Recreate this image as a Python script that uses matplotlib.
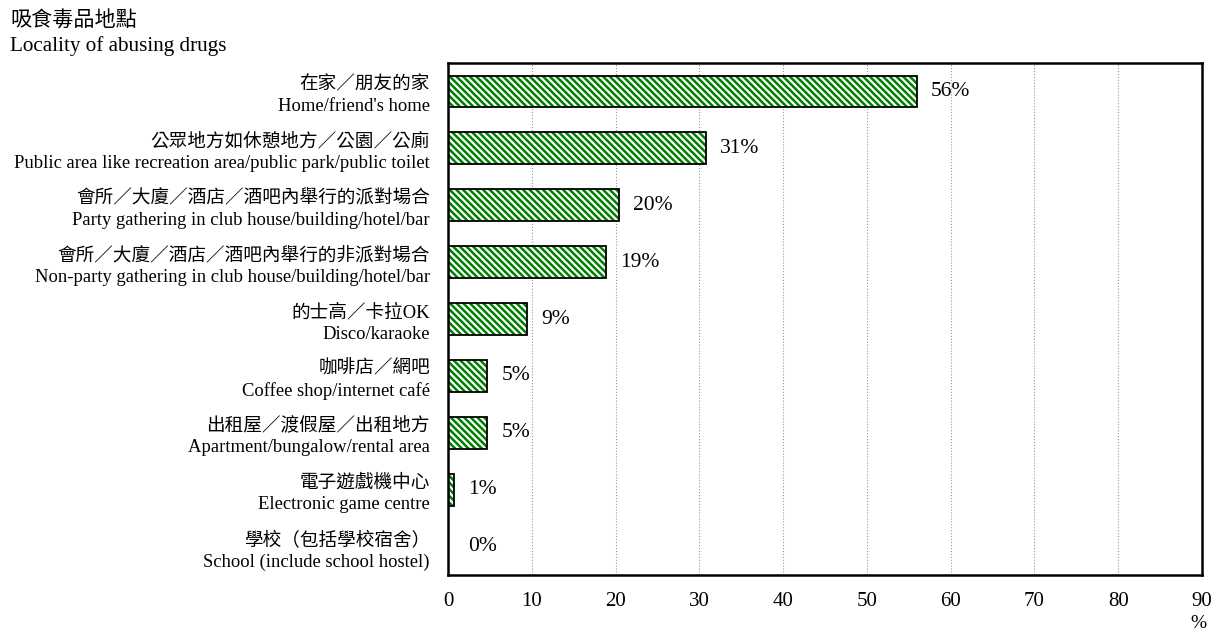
import matplotlib
matplotlib.use("Agg")
import matplotlib.pyplot as plt

categories_zh = ["在家／朋友的家", "公眾地方如休憩地方／公園／公廁",
                 "會所／大廈／酒店／酒吧內舉行的派對場合",
                 "會所／大廈／酒店／酒吧內舉行的非派對場合",
                 "的士高／卡拉OK", "咖啡店／網吧", "出租屋／渡假屋／出租地方",
                 "電子遊戲機中心", "學校（包括學校宿舍）"]
categories_en = ["Home/friend's home",
                 "Public area like recreation area/public park/public toilet",
                 "Party gathering in club house/building/hotel/bar",
                 "Non-party gathering in club house/building/hotel/bar",
                 "Disco/karaoke", "Coffee shop/internet café",
                 "Apartment/bungalow/rental area", "Electronic game centre",
                 "School (include school hostel)"]
values = [56.0, 30.8, 20.4, 18.9, 9.4, 4.7, 4.7, 0.7, 0.0]
value_labels = ["56%", "31%", "20%", "19%", "9%", "5%", "5%", "1%", "0%"]
xticks = [0, 10, 20, 30, 40, 50, 60, 70, 80, 90]

FAM = ["Liberation Serif", "Noto Sans CJK TC"]
plt.rcParams['font.family'] = FAM
plt.rcParams['font.weight'] = 'light'
plt.rcParams['hatch.linewidth'] = 1.8

fig = plt.figure(figsize=(12.13, 6.31), dpi=100)
ax = fig.add_axes([448/1213, 1-575/631, (1202-448)/1213, (575-63)/631])

y = list(range(len(values)))
# hatched fill (green stripes on white)
ax.barh(y, values, height=0.56, color='white', edgecolor='#008000',
        linewidth=0, hatch='\\' * 5, zorder=3)
# black outline
ax.barh(y, values, height=0.56, fill=False, edgecolor='black',
        linewidth=1.3, zorder=4)
for yi, v, lab in zip(y, values, value_labels):
    off = 14 if v > 0 else 20
    ax.annotate(lab, (v, yi), xytext=(off, 0), textcoords='offset pixels',
                va='center', ha='left', fontsize=15.5, family=FAM)

ax.set_ylim(len(values) - 0.5, -0.5)
ax.set_xlim(0, 90)
ax.set_xticks(xticks)
ax.set_xticklabels([str(t) for t in xticks], fontsize=15)
ax.set_yticks(y)
ax.set_yticklabels([f"{z}\n{e}" for z, e in zip(categories_zh, categories_en)],
                   fontsize=13.4, linespacing=1.33)
ax.tick_params(axis='both', length=0)
ax.tick_params(axis='y', pad=13)
ax.tick_params(axis='x', pad=12)
ax.grid(axis='x', linestyle=':', color='#999999', linewidth=0.8, zorder=0)
ax.set_axisbelow(True)
for s in ax.spines.values():
    s.set_linewidth(1.8)
    s.set_zorder(5)

fig.text(10/1213, 1-22/631, "吸食毒品地點", fontsize=15.2, va='center', ha='left')
fig.text(10/1213, 1-46/631, "Locality of abusing drugs", fontsize=15.2,
         va='center', ha='left')
fig.text(1198/1213, 1-623/631, "%", fontsize=14, va='center', ha='center')

fig.savefig("out.png", dpi=100)
